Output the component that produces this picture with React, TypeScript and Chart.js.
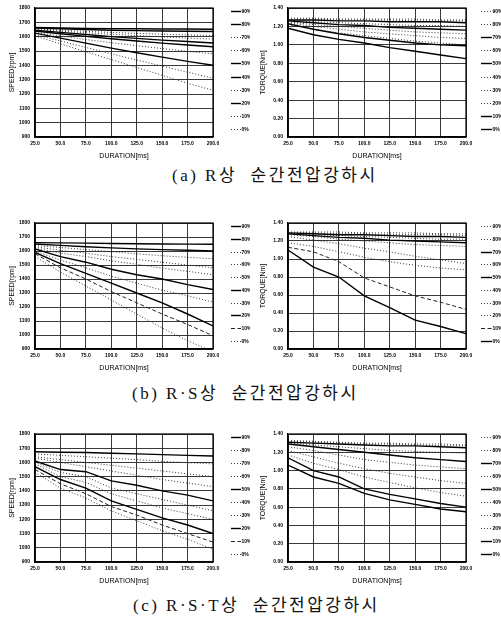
import React, { useEffect, useRef } from 'react';
import { Chart, registerables } from 'chart.js';
Chart.register(...registerables);

// ---------- data ----------
const durations = [25, 50, 75, 100, 125, 150, 175, 200];
const levels = ['90%', '80%', '70%', '60%', '50%', '40%', '30%', '20%', '10%', '0%'];
const speedTicks = [900, 1800, 100];
const torqueTicks = [0, 1.4, 0.2];

// s = solid, d = dashed, p = dotted
const speedA: number[][] = [
  [1665, 1660, 1658, 1656, 1655, 1654, 1653, 1652],
  [1660, 1655, 1650, 1645, 1642, 1640, 1638, 1636],
  [1655, 1645, 1637, 1630, 1623, 1617, 1612, 1608],
  [1650, 1638, 1627, 1617, 1607, 1598, 1590, 1583],
  [1645, 1630, 1615, 1600, 1588, 1576, 1566, 1556],
  [1640, 1620, 1602, 1585, 1570, 1555, 1542, 1530],
  [1630, 1605, 1580, 1558, 1537, 1517, 1498, 1480],
  [1625, 1590, 1555, 1520, 1488, 1457, 1428, 1400],
  [1615, 1570, 1525, 1480, 1437, 1395, 1352, 1310],
  [1605, 1550, 1495, 1440, 1385, 1330, 1275, 1225],
];
const speedAStyles = ['s', 's', 'p', 'p', 's', 's', 'p', 's', 'p', 'p'];

const torqueA: number[][] = [
  [1.29, 1.29, 1.28, 1.28, 1.28, 1.28, 1.27, 1.27],
  [1.28, 1.28, 1.27, 1.27, 1.27, 1.26, 1.26, 1.26],
  [1.27, 1.27, 1.26, 1.26, 1.25, 1.25, 1.25, 1.24],
  [1.27, 1.25, 1.24, 1.23, 1.22, 1.21, 1.21, 1.2],
  [1.26, 1.24, 1.22, 1.21, 1.19, 1.18, 1.17, 1.16],
  [1.25, 1.22, 1.2, 1.18, 1.16, 1.14, 1.13, 1.12],
  [1.24, 1.2, 1.17, 1.14, 1.12, 1.1, 1.08, 1.07],
  [1.22, 1.17, 1.13, 1.1, 1.07, 1.04, 1.02, 1.0],
  [1.23, 1.17, 1.12, 1.08, 1.05, 1.02, 1.0, 0.99],
  [1.18, 1.11, 1.06, 1.02, 0.97, 0.93, 0.89, 0.85],
];
const torqueAStyles = ['p', 'p', 's', 'p', 's', 'p', 'p', 'p', 's', 's'];

const speedB: number[][] = [
  [1660, 1658, 1656, 1654, 1652, 1650, 1649, 1648],
  [1650, 1640, 1630, 1622, 1615, 1610, 1605, 1600],
  [1640, 1625, 1610, 1595, 1580, 1566, 1555, 1545],
  [1630, 1605, 1585, 1560, 1540, 1520, 1500, 1480],
  [1620, 1585, 1560, 1530, 1505, 1478, 1455, 1430],
  [1615, 1560, 1520, 1470, 1430, 1400, 1360, 1325],
  [1600, 1535, 1480, 1420, 1370, 1320, 1280, 1235],
  [1590, 1510, 1440, 1370, 1300, 1230, 1150, 1065],
  [1580, 1480, 1400, 1310, 1230, 1150, 1075, 995],
  [1560, 1450, 1350, 1250, 1150, 1050, 960, 880],
];
const speedBStyles = ['s', 's', 'p', 'p', 'p', 's', 'p', 's', 'd', 'p'];

const torqueB: number[][] = [
  [1.3, 1.3, 1.3, 1.29, 1.29, 1.29, 1.28, 1.28],
  [1.29, 1.29, 1.28, 1.28, 1.27, 1.27, 1.27, 1.26],
  [1.29, 1.28, 1.27, 1.27, 1.26, 1.25, 1.25, 1.24],
  [1.28, 1.27, 1.26, 1.25, 1.24, 1.23, 1.22, 1.22],
  [1.28, 1.26, 1.24, 1.23, 1.21, 1.2, 1.19, 1.18],
  [1.27, 1.25, 1.22, 1.2, 1.18, 1.16, 1.15, 1.14],
  [1.25, 1.21, 1.17, 1.12, 1.08, 1.03, 0.99, 0.95],
  [1.18, 1.14, 1.08, 1.02, 0.97, 0.93, 0.9, 0.88],
  [1.13, 1.08, 0.97, 0.79, 0.69, 0.59, 0.52, 0.44],
  [1.1, 0.91, 0.8, 0.59, 0.46, 0.32, 0.25, 0.17],
];
const torqueBStyles = ['p', 'p', 's', 'p', 's', 'p', 'p', 'p', 'd', 's'];

const speedC: number[][] = [
  [1675, 1672, 1670, 1665, 1660, 1655, 1650, 1645],
  [1660, 1650, 1640, 1630, 1620, 1608, 1598, 1590],
  [1640, 1620, 1600, 1580, 1560, 1540, 1520, 1500],
  [1630, 1600, 1570, 1540, 1510, 1480, 1455, 1430],
  [1610, 1550, 1535, 1470, 1440, 1400, 1370, 1330],
  [1600, 1530, 1500, 1420, 1380, 1340, 1300, 1260],
  [1590, 1500, 1460, 1380, 1330, 1280, 1240, 1200],
  [1570, 1480, 1420, 1330, 1270, 1210, 1160, 1100],
  [1550, 1450, 1380, 1290, 1230, 1160, 1100, 1040],
  [1530, 1420, 1350, 1260, 1190, 1120, 1060, 990],
];
const speedCStyles = ['s', 'p', 'p', 'p', 's', 'p', 'p', 's', 'd', 'p'];

const torqueC: number[][] = [
  [1.33, 1.32, 1.31, 1.3, 1.3, 1.29, 1.29, 1.28],
  [1.32, 1.31, 1.3, 1.29, 1.29, 1.28, 1.27, 1.27],
  [1.31, 1.3, 1.29, 1.28, 1.27, 1.27, 1.26, 1.25],
  [1.3, 1.28, 1.26, 1.24, 1.22, 1.21, 1.2, 1.19],
  [1.29, 1.26, 1.23, 1.2, 1.17, 1.14, 1.12, 1.1],
  [1.26, 1.22, 1.17, 1.12, 1.09, 1.06, 1.04, 1.02],
  [1.22, 1.15, 1.08, 1.02, 0.97, 0.93, 0.89, 0.86],
  [1.17, 1.08, 1.01, 0.93, 0.87, 0.81, 0.76, 0.72],
  [1.14, 1.0, 0.93, 0.8, 0.74, 0.69, 0.64, 0.6],
  [1.06, 0.93, 0.86, 0.75, 0.68, 0.63, 0.58, 0.55],
];
const torqueCStyles = ['p', 'p', 's', 'p', 's', 'p', 'p', 'p', 's', 's'];

const captions = ['(a) R상  순간전압강하시', '(b) R·S상  순간전압강하시', '(c) R·S·T상  순간전압강하시'];

// ---------- rendering ----------
const sideLegend = {
  id: 'sideLegend',
  afterDraw(chart: any, _args: any, opts: any) {
    const { ctx, chartArea: ca } = chart;
    ctx.save();
    ctx.strokeStyle = '#000';
    ctx.lineWidth = 1.2;
    ctx.setLineDash([]);
    ctx.strokeRect(ca.left, ca.top, ca.right - ca.left, ca.bottom - ca.top);
    const ds = chart.data.datasets;
    const n = ds.length;
    const y0 = ca.top + 3;
    const y1 = ca.bottom - 8;
    ds.forEach((d: any, i: number) => {
      const y = Math.round(y0 + (i * (y1 - y0)) / (n - 1)) + 0.5;
      ctx.beginPath();
      ctx.setLineDash(d.borderDash || []);
      ctx.lineWidth = d.borderWidth;
      ctx.strokeStyle = d.borderColor;
      ctx.moveTo(ca.right + opts.dx0, y);
      ctx.lineTo(ca.right + opts.dx1, y);
      ctx.stroke();
      ctx.setLineDash([]);
      ctx.fillStyle = '#000';
      ctx.font = 'bold 5px "Liberation Sans", Arial, sans-serif';
      ctx.textBaseline = 'middle';
      ctx.textAlign = 'left';
      ctx.fillText(d.label, ca.right + opts.dx1 + 0.5, y);
    });
    ctx.restore();
  },
};

type Props = {
  left: number;
  top: number;
  width: number;
  height: number;
  series: number[][];
  styles: string[];
  range: number[];
  decimals: number;
  yTitle: string;
  yAxisWidth: number;
  yTitlePad: number;
  padRight: number;
  dx0: number;
  dx1: number;
};

function LineChart(p: Props) {
  const ref = useRef<HTMLCanvasElement>(null);
  useEffect(() => {
    if (!ref.current) return;
    const tickFont = { family: '"Liberation Sans", Arial, sans-serif', size: 5, weight: 'bold' as const };
    const titleFont = { family: '"Liberation Sans", Arial, sans-serif', size: 7 };
    const datasets = p.series.map((vals, i) => {
      const st = p.styles[i];
      return {
        label: levels[i],
        data: durations.map((x, j) => ({ x, y: vals[j] })),
        borderColor: st === 's' ? '#000' : '#222',
        borderWidth: st === 's' ? 1.4 : st === 'd' ? 1 : 0.9,
        borderDash: st === 'p' ? [1, 2] : st === 'd' ? [4, 2.5] : [],
        pointRadius: 0,
        tension: 0,
        fill: false,
      };
    });
    const chart = new Chart(ref.current, {
      type: 'line',
      data: { datasets },
      plugins: [sideLegend],
      options: {
        responsive: false,
        animation: false,
        devicePixelRatio: 1,
        layout: { padding: { top: 6, right: p.padRight, left: 0, bottom: 0 } },
        plugins: {
          legend: { display: false },
          tooltip: { enabled: false },
          sideLegend: { dx0: p.dx0, dx1: p.dx1 },
        } as any,
        scales: {
          x: {
            type: 'linear',
            min: 25,
            max: 200,
            ticks: {
              stepSize: 25,
              autoSkip: false,
              maxRotation: 0,
              padding: 4,
              color: '#000',
              font: tickFont,
              callback: (v: any) => Number(v).toFixed(1),
            },
            grid: { color: '#222', lineWidth: 0.9, drawTicks: false },
            border: { color: '#000', width: 1.2 },
            title: {
              display: true,
              text: 'DURATION[ms]',
              color: '#000',
              font: titleFont,
              padding: { top: 0, bottom: 5 },
            },
            afterFit: (s: any) => {
              s.height = 28;
            },
          },
          y: {
            type: 'linear',
            min: p.range[0],
            max: p.range[1],
            ticks: {
              stepSize: p.range[2],
              autoSkip: false,
              padding: 5,
              color: '#000',
              font: tickFont,
              callback: (v: any) => Number(v).toFixed(p.decimals),
            },
            grid: { color: '#222', lineWidth: 0.9, drawTicks: false },
            border: { color: '#000', width: 1.2 },
            title: {
              display: true,
              text: p.yTitle,
              color: '#000',
              font: titleFont,
              padding: { top: p.yTitlePad, bottom: 0 },
            },
            afterFit: (s: any) => {
              s.width = p.yAxisWidth;
            },
          },
        },
      } as any,
    });
    return () => chart.destroy();
  }, []);
  return (
    <canvas
      ref={ref}
      width={p.width}
      height={p.height}
      style={{ position: 'absolute', left: p.left, top: p.top, width: p.width, height: p.height, display: 'block' }}
    />
  );
}

const rows = [
  { top: 0, height: 165, speed: speedA, speedStyles: speedAStyles, torque: torqueA, torqueStyles: torqueAStyles, capLeft: 172, capY: 176 },
  { top: 215, height: 162, speed: speedB, speedStyles: speedBStyles, torque: torqueB, torqueStyles: torqueBStyles, capLeft: 132, capY: 394 },
  { top: 426, height: 164, speed: speedC, speedStyles: speedCStyles, torque: torqueC, torqueStyles: torqueCStyles, capLeft: 133, capY: 606 },
];

export default function App() {
  return (
    <div style={{ position: 'absolute', left: 0, top: 0, width: 501, height: 617, background: '#fff', overflow: 'hidden' }}>
      {rows.map((r, i) => (
        <React.Fragment key={i}>
          <LineChart
            left={0}
            top={r.top}
            width={250}
            height={r.height}
            series={r.speed}
            styles={r.speedStyles}
            range={speedTicks}
            decimals={0}
            yTitle="SPEED[rpm]"
            yAxisWidth={35}
            yTitlePad={8}
            padRight={37}
            dx0={18}
            dx1={28}
          />
          <LineChart
            left={250}
            top={r.top}
            width={251}
            height={r.height}
            series={r.torque}
            styles={r.torqueStyles}
            range={torqueTicks}
            decimals={2}
            yTitle="TORQUE[Nm]"
            yAxisWidth={38}
            yTitlePad={9}
            padRight={35}
            dx0={15}
            dx1={26}
          />
          <div
            style={{
              position: 'absolute',
              left: r.capLeft,
              top: r.capY - 11,
              height: 22,
              lineHeight: '22px',
              fontFamily: '"Liberation Serif", "Noto Sans CJK KR", serif',
              fontSize: 17,
              letterSpacing: 2.5,
              whiteSpace: 'pre',
              color: '#111',
            }}
          >
            {captions[i]}
          </div>
        </React.Fragment>
      ))}
    </div>
  );
}
